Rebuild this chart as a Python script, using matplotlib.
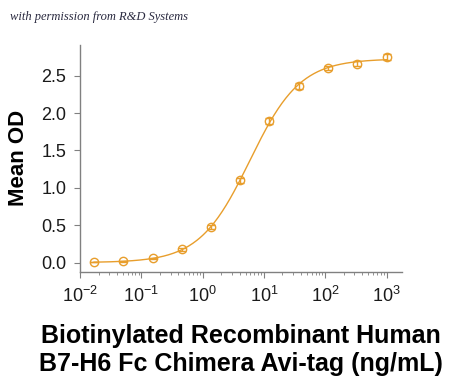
import matplotlib
matplotlib.use('Agg')
import matplotlib.pyplot as plt
import numpy as np

plt.rcParams['font.family'] = ['Liberation Sans', 'DejaVu Sans']
plt.rcParams['mathtext.default'] = 'regular'

# data (3-fold dilution series)
conc = [0.0169, 0.0508, 0.152, 0.457, 1.37, 4.12, 12.3, 37.0, 111.0, 333.0, 1000.0]
mean_od = [0.01, 0.02, 0.06, 0.18, 0.48, 1.10, 1.90, 2.36, 2.60, 2.66, 2.75]
od_err = [0.005, 0.005, 0.01, 0.02, 0.03, 0.03, 0.04, 0.04, 0.03, 0.03, 0.04]

x_ticks = [1e-2, 1e-1, 1e0, 1e1, 1e2, 1e3]
x_tick_labels = ['$10^{-2}$', '$10^{-1}$', '$10^{0}$', '$10^{1}$', '$10^{2}$', '$10^{3}$']
y_ticks = [0.0, 0.5, 1.0, 1.5, 2.0, 2.5]
y_tick_labels = ['0.0', '0.5', '1.0', '1.5', '2.0', '2.5']

x_label = 'Biotinylated Recombinant Human\nB7-H6 Fc Chimera Avi-tag (ng/mL)'
y_label = 'Mean OD'
credit = 'with permission from R&D Systems'
color = '#E89E2C'


def four_pl(x, p):
    bottom, top, ec50, hill = p
    return bottom + (top - bottom) / (1 + (ec50 / x) ** hill)


# simple Gauss-Newton fit of a 4PL curve to the points
x = np.array(conc)
y = np.array(mean_od)
p = np.array([min(y), max(y), 5.0, 1.0])
for _ in range(50):
    r = y - four_pl(x, p)
    J = np.zeros((len(x), 4))
    for k in range(4):
        dp = np.zeros(4)
        dp[k] = 1e-6 * max(abs(p[k]), 1e-3)
        J[:, k] = (four_pl(x, p + dp) - four_pl(x, p)) / dp[k]
    step = np.linalg.lstsq(J, r, rcond=None)[0]
    p = p + step
    if np.all(np.abs(step) < 1e-9):
        break

xs = np.logspace(np.log10(x.min()), np.log10(x.max()), 300)

fig = plt.figure(figsize=(4.5, 3.77), dpi=100)
ax = fig.add_axes([0.178, 0.279, 0.715, 0.602])

ax.plot(xs, four_pl(xs, p), color=color, lw=1.0)
ax.errorbar(conc, mean_od, yerr=od_err, fmt='o', ms=6, mfc='none', mec=color,
            mew=1.0, ecolor=color, elinewidth=1.0, capsize=3)

ax.set_xscale('log')
ax.set_xlim(10 ** -2, 10 ** 3.25)
ax.set_ylim(-0.12, 2.91)
ax.set_yticks(y_ticks)
ax.set_yticklabels(y_tick_labels)
ax.set_xticks(x_ticks)
ax.set_xticklabels(x_tick_labels)

for s in ['top', 'right']:
    ax.spines[s].set_visible(False)
for s in ['left', 'bottom']:
    ax.spines[s].set_color('#808080')
    ax.spines[s].set_linewidth(1.0)

ax.tick_params(axis='both', which='major', length=4, width=0.8, color='#808080',
               labelsize=13, labelcolor='#1a1a1a')
ax.tick_params(axis='y', which='major', pad=6)
ax.tick_params(axis='x', which='major', pad=6)
ax.tick_params(axis='x', which='minor', length=2, width=0.6, color='#808080')

ax.set_ylabel(y_label, fontsize=16, fontweight='bold', labelpad=9)
ax.set_xlabel(x_label, fontsize=18, fontweight='bold', labelpad=13, linespacing=1.22)

fig.text(0.022, 0.955, credit, fontsize=9, style='italic', family='Liberation Serif',
         color='#2a2a40', va='center', ha='left')

fig.savefig('out.png', dpi=100)
